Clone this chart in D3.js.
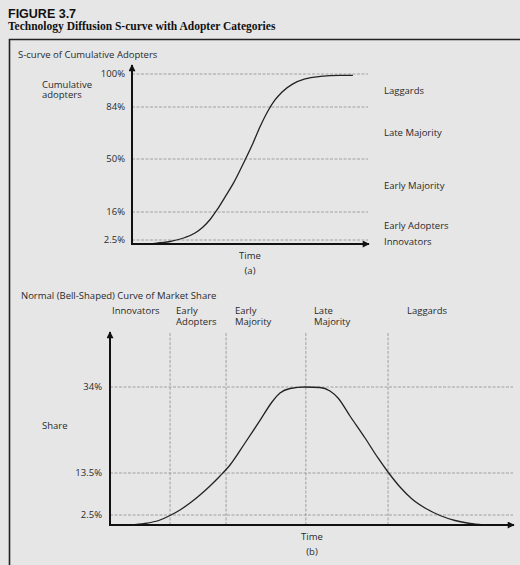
<!DOCTYPE html>
<html>
<head>
<meta charset="utf-8">
<script src="https://cdn.jsdelivr.net/npm/d3@7"></script>
<style>
  html, body { margin: 0; padding: 0; background: #e6e6e6; }
  svg { display: block; }
  text { font-family: "Open Sans", sans-serif; fill: #2a2a2a; }
</style>
</head>
<body>
<script>
// ---------- DATA ----------
// Panel (a): cumulative adopters (time units 0..100, percent)
const sTime  = [3.4, 9.7, 16.1, 22.5, 26.7, 30.1, 33.1, 36.0, 39.4, 42.8, 47.9, 51.3, 54.2, 57.6, 60.6, 63.6, 68.2, 73.3, 79.7, 88.1, 93.6];
const sValue = [0,   0.44, 1.56, 3.7, 5.9,  8.8,  12.4, 17.3, 25.6, 34.0, 49.4, 60.5, 70.9, 81.4, 87.4, 91.3, 95.2, 97.6, 98.8, 99.3, 99.3];
const sTicks = [2.5, 16, 50, 84, 100];
const sTickLabels = ["2.5%", "16%", "50%", "84%", "100%"];
const sCategories = ["Innovators", "Early Adopters", "Early Majority", "Late Majority", "Laggards"];

// Panel (b): market share bell curve
const bTime  = [4.96, 8.68, 12.41, 14.89, 17.37, 19.85, 22.33, 24.81, 27.30, 29.78, 33.50, 37.22, 40.20, 42.18, 44.67, 48.39, 52.11, 54.59, 56.58, 59.55, 63.28, 66.50, 68.98, 71.96, 74.94, 78.16, 81.89, 85.61, 89.33, 92.56];
const bValue = [0,    0.375, 1.25, 2.375, 3.81,  5.64,  7.74,  10.1,  12.71, 15.41, 20.65, 26.02, 30.43, 32.57, 33.64, 34.0,  33.88, 33.05, 31.38, 27.09, 21.84, 17.08, 13.74, 9.83,  6.69,  4.33,  2.375, 1.125, 0.375, 0];
const bTicks = [2.5, 13.5, 34];
const bTickLabels = ["2.5%", "13.5%", "34%"];
const bBoundaries = [14.9, 28.8, 48.6, 69.0];          // category boundaries (time)
const bCatLabels = [["Innovators"], ["Early", "Adopters"], ["Early", "Majority"], ["Late", "Majority"], ["Laggards"]];
const bCatLabelTime = [0.5, 16.4, 31.0, 50.6, 73.7];   // label anchors (time)

// ---------- SVG ----------
const W = 520, H = 565;
const svg = d3.select("body").append("svg").attr("width", W).attr("height", H);

const defs = svg.append("defs");
defs.append("marker").attr("id", "arrow")
  .attr("viewBox", "0 0 10 10").attr("refX", 9).attr("refY", 5)
  .attr("markerWidth", 9).attr("markerHeight", 7).attr("markerUnits", "userSpaceOnUse")
  .attr("orient", "auto")
  .append("path").attr("d", "M0,0 L10,5 L0,10 Z").attr("fill", "#111");

// Titles
svg.append("text").attr("x", 8).attr("y", 18)
  .style("font-family", "'Liberation Sans', Arial, sans-serif").style("font-weight", "bold")
  .style("font-size", "12.5px").style("fill", "#111").text("FIGURE 3.7");
svg.append("text").attr("x", 8).attr("y", 30)
  .style("font-family", "'Liberation Serif', 'Times New Roman', serif").style("font-weight", "bold")
  .style("font-size", "11.5px").style("fill", "#111").text("Technology Diffusion S-curve with Adopter Categories");

// Frame
svg.append("path").attr("d", `M9.5,${H + 5} L9.5,39.5 L${W + 5},39.5`)
  .attr("fill", "none").attr("stroke", "#222").attr("stroke-width", 1.6);

const gridStyle = sel => sel.attr("stroke", "#8f8f8f").attr("stroke-width", 0.8).attr("stroke-dasharray", "3,1.5");
const fs = "9.5px";

// ---------- PANEL (a) ----------
const xA = d3.scaleLinear().domain([0, 100]).range([132, 368]);
const yA = d3.scaleLinear().domain([0, 2.5, 16, 50, 84, 100]).range([244, 240, 212, 159, 107, 74]);

svg.append("text").attr("x", 18).attr("y", 58).style("font-size", fs).text("S-curve of Cumulative Adopters");
svg.append("text").attr("x", 42).attr("y", 88).style("font-size", fs).text("Cumulative");
svg.append("text").attr("x", 42).attr("y", 98).style("font-size", fs).text("adopters");

const gA = svg.append("g");
gA.selectAll("line.grid").data(sTicks).join("line")
  .attr("x1", xA(0)).attr("x2", xA(100))
  .attr("y1", d => yA(d)).attr("y2", d => yA(d))
  .call(gridStyle);
gA.selectAll("text.tick").data(sTicks).join("text")
  .attr("x", xA(0) - 7).attr("y", d => yA(d)).attr("dy", "0.35em")
  .attr("text-anchor", "end").style("font-size", fs)
  .text((d, i) => sTickLabels[i]);

const sBounds = [0].concat(sTicks);
gA.selectAll("text.cat").data(sCategories).join("text")
  .attr("x", 384).attr("y", (d, i) => (yA(sBounds[i]) + yA(sBounds[i + 1])) / 2)
  .attr("dy", "0.35em").style("font-size", fs).text(d => d);

const lineA = d3.line().x(d => xA(d[0])).y(d => yA(d[1])).curve(d3.curveMonotoneX);
gA.append("path").datum(sTime.map((t, i) => [t, sValue[i]]))
  .attr("d", lineA).attr("fill", "none").attr("stroke", "#222").attr("stroke-width", 1.3);

// axes
gA.append("line").attr("x1", xA(0)).attr("y1", yA(0)).attr("x2", xA(0)).attr("y2", yA(100) - 9)
  .attr("stroke", "#111").attr("stroke-width", 2).attr("marker-end", "url(#arrow)");
gA.append("line").attr("x1", xA(0) - 1).attr("y1", yA(0)).attr("x2", xA(100) + 1).attr("y2", yA(0))
  .attr("stroke", "#111").attr("stroke-width", 2).attr("marker-end", "url(#arrow)");

gA.append("text").attr("x", (xA(0) + xA(100)) / 2).attr("y", 259).attr("text-anchor", "middle").style("font-size", fs).text("Time");
gA.append("text").attr("x", (xA(0) + xA(100)) / 2).attr("y", 274).attr("text-anchor", "middle").style("font-size", fs).text("(a)");

// ---------- PANEL (b) ----------
const xB = d3.scaleLinear().domain([0, 100]).range([110, 513]);
const yB = d3.scaleLinear().domain([0, 2.5, 13.5, 34]).range([525, 515, 473, 387]);

svg.append("text").attr("x", 21).attr("y", 299).style("font-size", fs).text("Normal (Bell-Shaped) Curve of Market Share");
svg.append("text").attr("x", 42).attr("y", 429).style("font-size", fs).text("Share");

const gB = svg.append("g");
gB.selectAll("line.hgrid").data(bTicks).join("line")
  .attr("x1", xB(0)).attr("x2", xB(100))
  .attr("y1", d => yB(d)).attr("y2", d => yB(d))
  .call(gridStyle);
gB.selectAll("line.vgrid").data(bBoundaries).join("line")
  .attr("x1", d => xB(d)).attr("x2", d => xB(d))
  .attr("y1", yB(0)).attr("y2", 333)
  .call(gridStyle);
gB.selectAll("text.tick").data(bTicks).join("text")
  .attr("x", xB(0) - 8).attr("y", d => yB(d)).attr("dy", "0.35em")
  .attr("text-anchor", "end").style("font-size", fs)
  .text((d, i) => bTickLabels[i]);

const cat = gB.selectAll("text.cat").data(bCatLabels).join("text")
  .attr("x", (d, i) => xB(bCatLabelTime[i])).attr("y", 314).style("font-size", fs);
cat.selectAll("tspan").data(d => d).join("tspan")
  .attr("x", function () { return d3.select(this.parentNode).attr("x"); })
  .attr("dy", (d, i) => i === 0 ? 0 : 10.5).text(d => d);

const lineB = d3.line().x(d => xB(d[0])).y(d => yB(d[1])).curve(d3.curveMonotoneX);
gB.append("path").datum(bTime.map((t, i) => [t, bValue[i]]))
  .attr("d", lineB).attr("fill", "none").attr("stroke", "#222").attr("stroke-width", 1.3);

gB.append("line").attr("x1", xB(0)).attr("y1", yB(0)).attr("x2", xB(0)).attr("y2", 332)
  .attr("stroke", "#111").attr("stroke-width", 2).attr("marker-end", "url(#arrow)");
gB.append("line").attr("x1", xB(0) - 1).attr("y1", yB(0)).attr("x2", xB(100) + 1).attr("y2", yB(0))
  .attr("stroke", "#111").attr("stroke-width", 2).attr("marker-end", "url(#arrow)");

gB.append("text").attr("x", (xB(0) + xB(100)) / 2 + 0.5).attr("y", 540).attr("text-anchor", "middle").style("font-size", fs).text("Time");
gB.append("text").attr("x", (xB(0) + xB(100)) / 2 + 0.5).attr("y", 555).attr("text-anchor", "middle").style("font-size", fs).text("(b)");
</script>
</body>
</html>
